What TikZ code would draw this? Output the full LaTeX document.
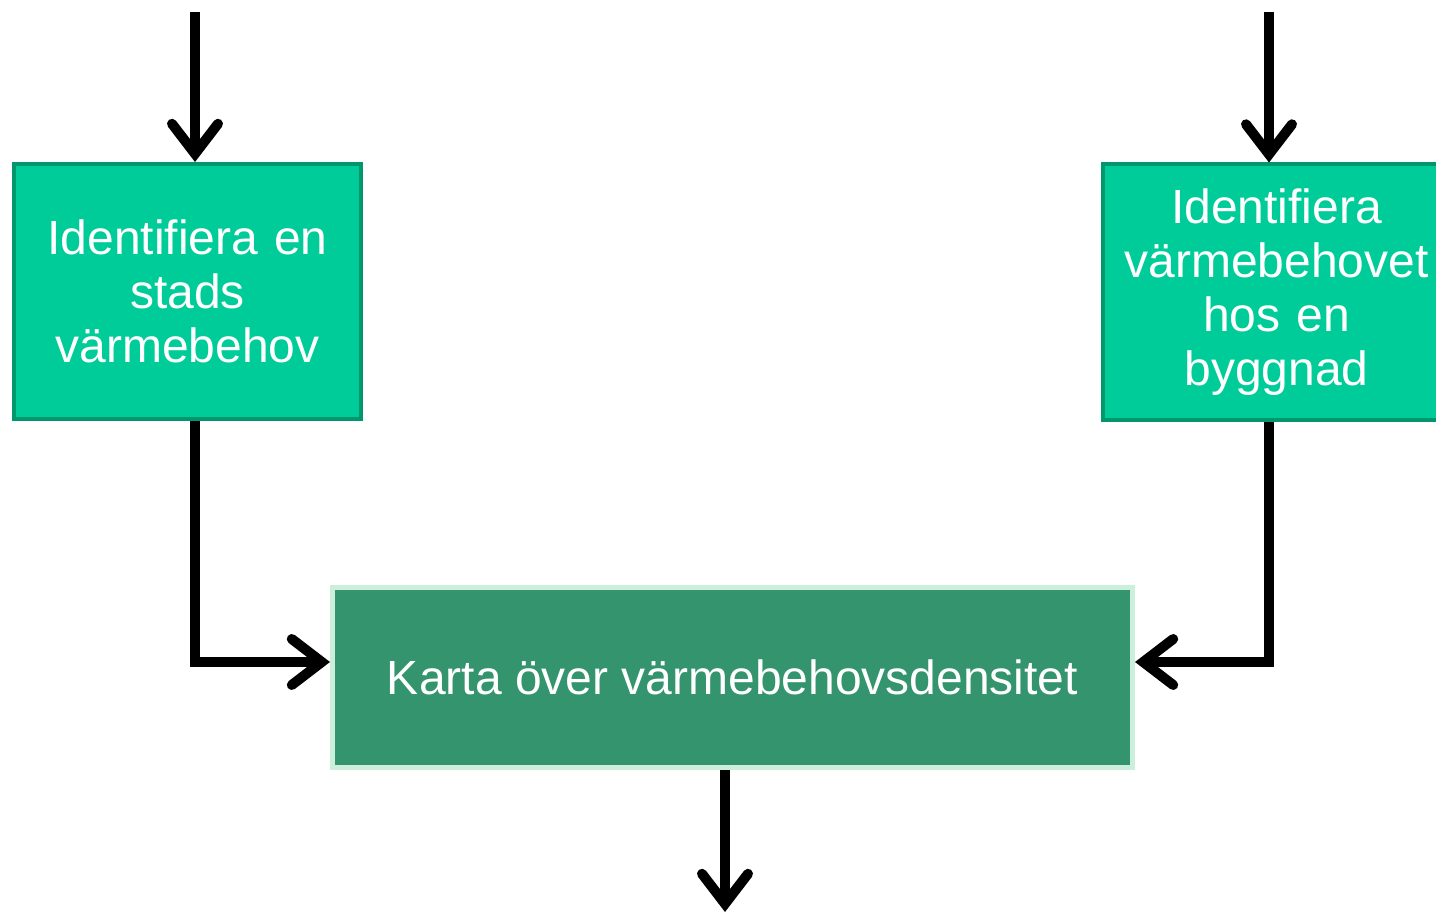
\documentclass[tikz,border=0pt]{standalone}
\usepackage{fontspec}
\setmainfont{Liberation Sans}
\usepackage{xcolor}
\usetikzlibrary{calc, arrows.meta}

\definecolor{stepfill}{HTML}{00CC99}
\definecolor{stepline}{HTML}{00976C}
\definecolor{mapfill}{HTML}{33946E}
\definecolor{mapline}{HTML}{CCEEDD}

\tikzset{
	flow/.style={line width=5pt, -{Straight Barb[length=15pt, width=23pt, line cap=round]}},
	stepbox/.style={draw=stepline, fill=stepfill, line width=2pt, text=white, align=center,
		minimum width=173.5pt, minimum height=127.5pt, text width=170pt,
		font=\fontsize{24pt}{27pt}\selectfont, inner sep=0pt},
	mapbox/.style={draw=mapline, fill=mapfill, line width=2.5pt, text=white,
		minimum width=400pt, minimum height=90pt, inner sep=0pt,
		font=\fontsize{24pt}{27pt}\selectfont}
}

\begin{document}
\begin{tikzpicture}[x=0.5pt, y=-0.5pt]
		%frame of the picture
		\useasboundingbox (0,0) rectangle (1436,915);
		
		%free ends of the arrows
		\coordinate (inA) at (195,12);
		\coordinate (inB) at (1269,12);
		\coordinate (out) at (725,912);
		
		%boxes
		\node [stepbox] (stad) at (187.5,291.5) {Identifiera en\\stads\\värmebehov};
		\node [stepbox] (byggnad) at (1276.5,292) {Identifiera\\värmebehovet\\hos en\\byggnad};
		\node [mapbox] (karta) at (732.5,677.5) {Karta över värmebehovsdensitet};
		
		%arrows
		\draw [flow] (inA) -- (inA |- stad.north);
		\draw [flow] (inB) -- (inB |- byggnad.north);
		\draw [flow] (inA |- stad.south) |- ([yshift=7.75pt]karta.west);
		\draw [flow] (inB |- byggnad.south) |- ([yshift=7.75pt]karta.east);
		\draw [flow] (out |- karta.south) -- (out);
	\end{tikzpicture}
\end{document}
